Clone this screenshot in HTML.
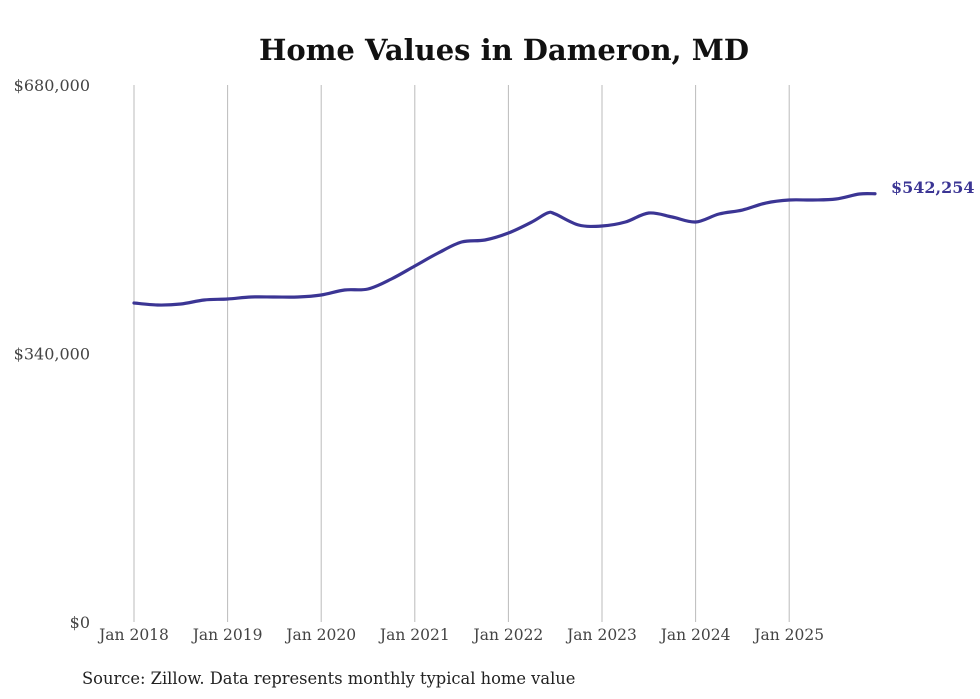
<!DOCTYPE html>
<html><head><meta charset="utf-8"><style>
body{margin:0;background:#fff;}
svg{display:block;font-family:"DejaVu Serif","Liberation Serif",serif;}
</style></head><body>
<svg width="980" height="699" viewBox="0 0 980 699">
<text x="504" y="60" text-anchor="middle" font-size="29" font-weight="bold" fill="#111">Home Values in Dameron, MD</text>
<g id="grid"></g>
<g id="yaxis"></g>
<g id="xaxis"></g>
<path id="line" fill="none" stroke="#3b3594" stroke-width="3.2" stroke-linejoin="round" stroke-linecap="round"/>
<text id="endlabel" font-size="16" font-weight="bold" fill="#3b3594"></text>
<text x="82" y="684" font-size="16.3" fill="#222">Source: Zillow. Data represents monthly typical home value</text>
</svg>
<script>
const months=[0,3,6,9,12,15,18,21,24,27,30,33,36,39,42,45,48,51,53,54,57,60,63,66,69,72,75,78,81,84,87,90,93,95];
const values=[403950,401420,402680,407750,409010,411550,411550,411550,414080,420410,421680,434340,450800,467260,481190,483720,492580,506510,517900,516640,502710,501450,506510,517900,512840,506510,516640,521700,530570,534370,534370,535630,541960,542254];
const yTicks=[0,340000,680000];
const yTickLabels=["$0","$340,000","$680,000"];
const xTickMonths=[0,12,24,36,48,60,72,84];
const xTickLabels=["Jan 2018","Jan 2019","Jan 2020","Jan 2021","Jan 2022","Jan 2023","Jan 2024","Jan 2025"];
const NS="http://www.w3.org/2000/svg";
const x=m=>134+m*93.6/12;
const y=v=>622-v/680000*537;
const grid=document.getElementById('grid'),ya=document.getElementById('yaxis'),xa=document.getElementById('xaxis');
xTickMonths.forEach((m,i)=>{
 const l=document.createElementNS(NS,'line');
 l.setAttribute('x1',x(m));l.setAttribute('x2',x(m));l.setAttribute('y1',85);l.setAttribute('y2',622);
 l.setAttribute('stroke','#bbb');l.setAttribute('stroke-width','1');
 
 
 grid.appendChild(l);
 const t=document.createElementNS(NS,'text');
 t.setAttribute('x',x(m));t.setAttribute('y',640);t.setAttribute('text-anchor','middle');
 t.setAttribute('font-size','15.5');t.setAttribute('fill','#444');
 t.textContent=xTickLabels[i];
 
 
 xa.appendChild(t);
});
yTicks.forEach((v,i)=>{
 const t=document.createElementNS(NS,'text');
 t.setAttribute('x',90);t.setAttribute('y',y(v)+6);t.setAttribute('text-anchor','end');
 t.setAttribute('font-size','16');t.setAttribute('fill','#444');
 t.textContent=yTickLabels[i];
 
 
 ya.appendChild(t);
});
const pts=months.map((m,i)=>[x(m),y(values[i])]);
let d='M'+pts[0][0]+','+pts[0][1];
for(let i=0;i<pts.length-1;i++){
 const p0=pts[Math.max(i-1,0)],p1=pts[i],p2=pts[i+1],p3=pts[Math.min(i+2,pts.length-1)];
 const c1=[p1[0]+(p2[0]-p0[0])/6,p1[1]+(p2[1]-p0[1])/6];
 const c2=[p2[0]-(p3[0]-p1[0])/6,p2[1]-(p3[1]-p1[1])/6];
 d+=` C${c1[0]},${c1[1]} ${c2[0]},${c2[1]} ${p2[0]},${p2[1]}`;
}
document.getElementById('line').setAttribute('d',d);
const last=pts[pts.length-1],el=document.getElementById('endlabel');
el.setAttribute('x',last[0]+16);el.setAttribute('y',last[1]-1);
el.textContent='$'+values[values.length-1].toLocaleString('en-US');
</script>
</body></html>
